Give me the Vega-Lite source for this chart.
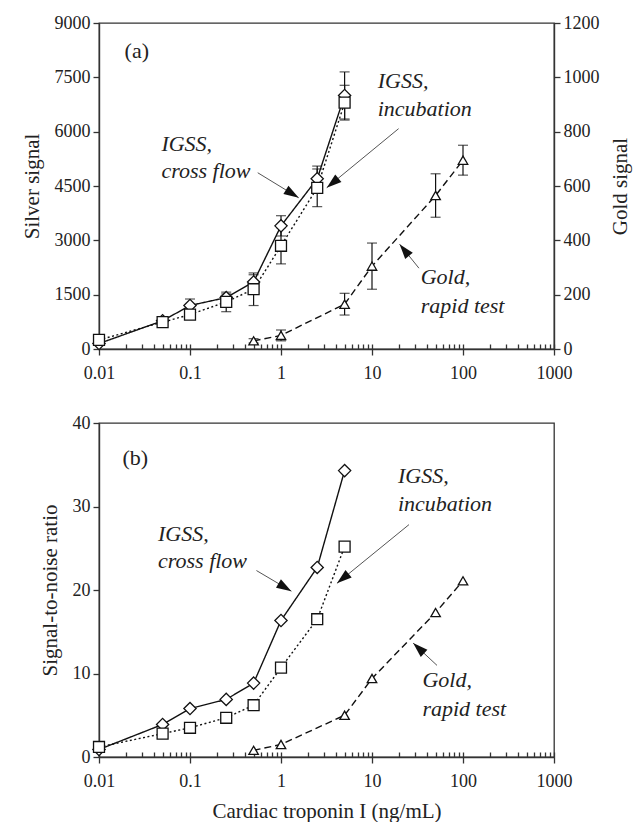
{
  "$schema": "https://vega.github.io/schema/vega-lite/v6.json",
  "background": "white",
  "padding": {"left": 20, "top": 13, "right": 2, "bottom": 2},
  "datasets": {
    "silver": [
      {"x": 0.01, "s": "cf", "y": 150, "e": 40},
      {"x": 0.05, "s": "cf", "y": 780, "e": 70},
      {"x": 0.1, "s": "cf", "y": 1200, "e": 180},
      {"x": 0.25, "s": "cf", "y": 1420, "e": 100},
      {"x": 0.5, "s": "cf", "y": 1850, "e": 200},
      {"x": 1, "s": "cf", "y": 3400, "e": 280},
      {"x": 2.5, "s": "cf", "y": 4700, "e": 350},
      {"x": 5, "s": "cf", "y": 7000, "e": 650},
      {"x": 0.01, "s": "inc", "y": 250, "e": 40},
      {"x": 0.05, "s": "inc", "y": 740, "e": 60},
      {"x": 0.1, "s": "inc", "y": 950, "e": 60},
      {"x": 0.25, "s": "inc", "y": 1300, "e": 270},
      {"x": 0.5, "s": "inc", "y": 1650, "e": 450},
      {"x": 1, "s": "inc", "y": 2850, "e": 500},
      {"x": 2.5, "s": "inc", "y": 4450, "e": 520},
      {"x": 5, "s": "inc", "y": 6800, "e": 480}
    ],
    "gold": [
      {"x": 0.5, "s": "gold", "y": 30, "e": 8},
      {"x": 1, "s": "gold", "y": 50, "e": 20},
      {"x": 5, "s": "gold", "y": 165, "e": 40},
      {"x": 10, "s": "gold", "y": 305, "e": 85},
      {"x": 50, "s": "gold", "y": 565, "e": 80},
      {"x": 100, "s": "gold", "y": 695, "e": 55}
    ],
    "snr": [
      {"x": 0.01, "s": "cf", "y": 0.9},
      {"x": 0.05, "s": "cf", "y": 3.9},
      {"x": 0.1, "s": "cf", "y": 5.8},
      {"x": 0.25, "s": "cf", "y": 6.9},
      {"x": 0.5, "s": "cf", "y": 8.85},
      {"x": 1, "s": "cf", "y": 16.35},
      {"x": 2.5, "s": "cf", "y": 22.7},
      {"x": 5, "s": "cf", "y": 34.3},
      {"x": 0.01, "s": "inc", "y": 1.2},
      {"x": 0.05, "s": "inc", "y": 2.8},
      {"x": 0.1, "s": "inc", "y": 3.5},
      {"x": 0.25, "s": "inc", "y": 4.7},
      {"x": 0.5, "s": "inc", "y": 6.2},
      {"x": 1, "s": "inc", "y": 10.7},
      {"x": 2.5, "s": "inc", "y": 16.5},
      {"x": 5, "s": "inc", "y": 25.2},
      {"x": 0.5, "s": "gold", "y": 0.8},
      {"x": 1, "s": "gold", "y": 1.5},
      {"x": 5, "s": "gold", "y": 5.0},
      {"x": 10, "s": "gold", "y": 9.4},
      {"x": 50, "s": "gold", "y": 17.3},
      {"x": 100, "s": "gold", "y": 21.1}
    ],
    "annA": [
      {"x": 0.0485, "y": 5668, "t": "IGSS,"},
      {"x": 0.0485, "y": 4922, "t": "cross flow"},
      {"x": 11.55, "y": 7410, "t": "IGSS,"},
      {"x": 11.55, "y": 6636, "t": "incubation"},
      {"x": 34.3, "y": 1991, "t": "Gold,"},
      {"x": 34.3, "y": 1189, "t": "rapid test"}
    ],
    "labA": [{"x": 0.0191, "y": 8240, "t": "(a)"}],
    "arrA": [
      {"x": 1.566, "y": 4175, "x2": 0.555, "y2": 4866, "ang": 121.4},
      {"x": 3.18, "y": 4452, "x2": 19.6, "y2": 6083, "ang": 230.7},
      {"x": 20.1, "y": 2895, "x2": 32.8, "y2": 2231, "ang": 321.2}
    ],
    "annB": [
      {"x": 0.0445, "y": 26.75, "t": "IGSS,"},
      {"x": 0.0445, "y": 23.5, "t": "cross flow"},
      {"x": 19.3, "y": 33.6, "t": "IGSS,"},
      {"x": 19.3, "y": 30.35, "t": "incubation"},
      {"x": 35.8, "y": 9.17, "t": "Gold,"},
      {"x": 35.8, "y": 5.79, "t": "rapid test"}
    ],
    "labB": [{"x": 0.0181, "y": 35.85, "t": "(b)"}],
    "arrB": [
      {"x": 1.30, "y": 19.86, "x2": 0.537, "y2": 22.33, "ang": 120.6},
      {"x": 4.12, "y": 20.8, "x2": 25.5, "y2": 27.83, "ang": 230.8},
      {"x": 28.3, "y": 13.64, "x2": 51.8, "y2": 10.97, "ang": 312.9}
    ]
  },
  "config": {
    "font": "Liberation Serif",
    "view": {"stroke": "#333", "strokeWidth": 1.3},
    "axis": {
      "labelFont": "Liberation Serif", "labelFontSize": 18, "labelColor": "#222",
      "titleFont": "Liberation Serif", "titleFontSize": 21, "titleFontWeight": "normal", "titleColor": "#222",
      "domainColor": "#333", "domainWidth": 1.4, "tickColor": "#333", "tickWidth": 1.3, "tickSize": 6,
      "grid": false, "labelPadding": 3
    }
  },
  "spacing": 74,
  "bounds": "flush",
  "vconcat": [
    {
      "width": 455,
      "height": 326,
      "resolve": {"scale": {"y": "independent"}, "axis": {"x": "independent"}},
      "layer": [
        {
          "encoding": {
            "x": {"field": "x", "type": "quantitative", "scale": {"type": "log", "domain": [0.01, 1000]},
                  "axis": {"orient": "bottom", "values": [0.01, 0.1, 1, 10, 100, 1000], "format": "~g", "title": null, "labelPadding": 9, "labelFlush": false, "labelOverlap": false}},
            "y": {"field": "y", "type": "quantitative", "scale": {"domain": [0, 9000], "nice": false},
                  "axis": {"orient": "left", "values": [0, 1500, 3000, 4500, 6000, 7500, 9000], "format": "d", "title": "Silver signal", "titlePadding": 12}}
          },
          "layer": [
            {
              "data": {"name": "silver"},
              "mark": {"type": "errorbar", "ticks": {"size": 10, "thickness": 1.2, "color": "#111"}, "rule": {"strokeWidth": 1.2, "color": "#111"}},
              "encoding": {"yError": {"field": "e"}, "detail": {"field": "s"}}
            },
            {
              "data": {"name": "silver"},
              "mark": {"type": "line", "color": "#111", "strokeWidth": 1.4},
              "encoding": {
                "detail": {"field": "s"},
                "strokeDash": {"field": "s", "type": "nominal", "scale": {"domain": ["cf", "inc", "gold"], "range": [[1, 0], [2, 2.5], [7, 4]]}, "legend": null}
              }
            },
            {
              "data": {"name": "silver"},
              "mark": {"type": "point", "filled": false, "fill": "white", "fillOpacity": 1, "stroke": "#111", "strokeWidth": 1.3, "opacity": 1},
              "encoding": {
                "shape": {"field": "s", "type": "nominal", "scale": {"domain": ["cf", "inc", "gold"], "range": ["diamond", "square", "triangle-up"]}, "legend": null},
                "size": {"field": "s", "type": "ordinal", "scale": {"domain": ["cf", "inc", "gold"], "range": [150, 90, 110]}, "legend": null}
              }
            },
            {
              "data": {"name": "arrA"},
              "mark": {"type": "rule", "color": "#555", "strokeWidth": 1},
              "encoding": {"x2": {"field": "x2"}, "y2": {"field": "y2"}}
            },
            {
              "data": {"name": "arrA"},
              "mark": {"type": "point", "shape": "M0,0L0.65,2L-0.65,2Z", "filled": true, "color": "#111", "size": 225, "opacity": 1},
              "encoding": {
                "angle": {"field": "ang", "type": "quantitative", "scale": null}
              }
            },
            {
              "data": {"name": "annA"},
              "mark": {"type": "text", "align": "left", "baseline": "middle", "font": "Liberation Serif", "fontStyle": "italic", "fontSize": 22, "color": "#222"},
              "encoding": {"text": {"field": "t"}}
            },
            {
              "data": {"name": "labA"},
              "mark": {"type": "text", "align": "left", "baseline": "middle", "font": "Liberation Serif", "fontSize": 22, "color": "#222"},
              "encoding": {"text": {"field": "t"}}
            }
          ]
        },
        {
          "data": {"name": "gold"},
          "encoding": {
            "x": {"field": "x", "type": "quantitative", "scale": {"type": "log", "domain": [0.01, 1000]},
                  "axis": {"orient": "bottom", "labels": false, "domain": false, "tickSize": -5, "title": null,
                           "values": [0.01,0.02,0.03,0.04,0.05,0.06,0.07,0.08,0.09,0.1,0.2,0.3,0.4,0.5,0.6,0.7,0.8,0.9,1,2,3,4,5,6,7,8,9,10,20,30,40,50,60,70,80,90,100,200,300,400,500,600,700,800,900,1000]}},
            "y": {"field": "y", "type": "quantitative", "scale": {"domain": [0, 1200], "nice": false},
                  "axis": {"orient": "right", "values": [0, 200, 400, 600, 800, 1000, 1200], "format": "d", "title": "Gold signal", "titleAngle": 270, "titleBaseline": "top", "titlePadding": 10}}
          },
          "layer": [
            {
              "mark": {"type": "errorbar", "ticks": {"size": 10, "thickness": 1.2, "color": "#111"}, "rule": {"strokeWidth": 1.2, "color": "#111"}},
              "encoding": {"yError": {"field": "e"}}
            },
            {
              "mark": {"type": "line", "color": "#111", "strokeWidth": 1.4},
              "encoding": {
                "strokeDash": {"field": "s", "type": "nominal", "scale": {"domain": ["cf", "inc", "gold"], "range": [[1, 0], [2, 2.5], [7, 4]]}, "legend": null}
              }
            },
            {
              "mark": {"type": "point", "filled": false, "fill": "white", "fillOpacity": 1, "stroke": "#111", "strokeWidth": 1.3, "opacity": 1},
              "encoding": {
                "shape": {"field": "s", "type": "nominal", "scale": {"domain": ["cf", "inc", "gold"], "range": ["diamond", "square", "triangle-up"]}, "legend": null},
                "size": {"field": "s", "type": "ordinal", "scale": {"domain": ["cf", "inc", "gold"], "range": [150, 90, 110]}, "legend": null}
              }
            }
          ]
        }
      ]
    },
    {
      "width": 455,
      "height": 334,
      "resolve": {"axis": {"x": "independent"}},
      "layer": [
        {
          "data": {"name": "snr"},
          "encoding": {
            "x": {"field": "x", "type": "quantitative", "scale": {"type": "log", "domain": [0.01, 1000]},
                  "axis": {"orient": "bottom", "values": [0.01, 0.1, 1, 10, 100, 1000], "format": "~g", "title": "Cardiac troponin I (ng/mL)", "titlePadding": 10, "labelPadding": 9, "labelFlush": false, "labelOverlap": false}},
            "y": {"field": "y", "type": "quantitative", "scale": {"domain": [0, 40], "nice": false},
                  "axis": {"orient": "left", "values": [0, 10, 20, 30, 40], "format": "d", "title": "Signal-to-noise ratio", "titlePadding": 12}}
          },
          "layer": [
            {
              "mark": {"type": "line", "color": "#111", "strokeWidth": 1.4},
              "encoding": {
                "detail": {"field": "s"},
                "strokeDash": {"field": "s", "type": "nominal", "scale": {"domain": ["cf", "inc", "gold"], "range": [[1, 0], [2, 2.5], [7, 4]]}, "legend": null}
              }
            },
            {
              "mark": {"type": "point", "filled": false, "fill": "white", "fillOpacity": 1, "stroke": "#111", "strokeWidth": 1.3, "opacity": 1},
              "encoding": {
                "shape": {"field": "s", "type": "nominal", "scale": {"domain": ["cf", "inc", "gold"], "range": ["diamond", "square", "triangle-up"]}, "legend": null},
                "size": {"field": "s", "type": "ordinal", "scale": {"domain": ["cf", "inc", "gold"], "range": [150, 90, 110]}, "legend": null}
              }
            }
          ]
        },
        {
          "encoding": {
            "x": {"field": "x", "type": "quantitative", "scale": {"type": "log", "domain": [0.01, 1000]},
                  "axis": {"orient": "bottom", "labels": false, "domain": false, "tickSize": -5, "title": null,
                           "values": [0.01,0.02,0.03,0.04,0.05,0.06,0.07,0.08,0.09,0.1,0.2,0.3,0.4,0.5,0.6,0.7,0.8,0.9,1,2,3,4,5,6,7,8,9,10,20,30,40,50,60,70,80,90,100,200,300,400,500,600,700,800,900,1000]}},
            "y": {"field": "y", "type": "quantitative", "scale": {"domain": [0, 40], "nice": false},
                  "axis": {"orient": "left", "values": [0, 10, 20, 30, 40], "format": "d", "title": "Signal-to-noise ratio", "titlePadding": 12}}
          },
          "layer": [
            {
              "data": {"name": "arrB"},
              "mark": {"type": "rule", "color": "#555", "strokeWidth": 1},
              "encoding": {"x2": {"field": "x2"}, "y2": {"field": "y2"}}
            },
            {
              "data": {"name": "arrB"},
              "mark": {"type": "point", "shape": "M0,0L0.65,2L-0.65,2Z", "filled": true, "color": "#111", "size": 225, "opacity": 1},
              "encoding": {
                "angle": {"field": "ang", "type": "quantitative", "scale": null}
              }
            },
            {
              "data": {"name": "annB"},
              "mark": {"type": "text", "align": "left", "baseline": "middle", "font": "Liberation Serif", "fontStyle": "italic", "fontSize": 22, "color": "#222"},
              "encoding": {"text": {"field": "t"}}
            },
            {
              "data": {"name": "labB"},
              "mark": {"type": "text", "align": "left", "baseline": "middle", "font": "Liberation Serif", "fontSize": 22, "color": "#222"},
              "encoding": {"text": {"field": "t"}}
            }
          ]
        }
      ]
    }
  ]
}
